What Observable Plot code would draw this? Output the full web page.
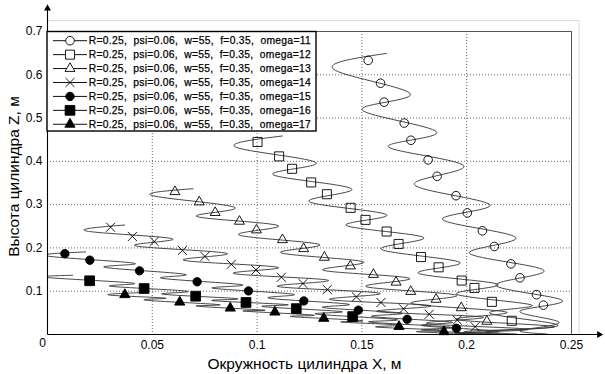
<!DOCTYPE html>
<html><head><meta charset="utf-8">
<script src="https://cdn.jsdelivr.net/npm/d3@7"></script>
<script src="https://cdn.jsdelivr.net/npm/@observablehq/plot@0.6"></script>
<style>
body{margin:0;background:#fff;}
#chart{width:605px;height:374px;}
</style></head><body><div id="chart"></div>
<script>
const omegas = [11, 12, 13, 14, 15, 16, 17];
const legendPrefix = "R=0.25,  psi=0.06,  w=55,  f=0.35,  omega=";
const xTicks = [0.05, 0.1, 0.15, 0.2, 0.25];
const yTicks = [0.1, 0.2, 0.3, 0.4, 0.5, 0.6, 0.7];
const xGrid = [0.05, 0.1, 0.15, 0.2];
const yGrid = [0.1, 0.2, 0.3, 0.4, 0.5, 0.6];
const originLabel = ["0"];
const xLabel = "Окружность цилиндра X, м";
const yLabel = "Высота цилиндра Z, м";

// curve turning points [x, z] and marker points [x, z]
const path11 = [[0.1617,0.6494],[0.1373,0.6103],[0.1732,0.5552],[0.1502,0.5184],[0.1856,0.4678],[0.1627,0.4333],[0.1986,0.3897],[0.1751,0.3460],[0.2110,0.3000],[0.1885,0.2655],[0.2234,0.2241],[0.2014,0.1874],[0.2368,0.1483],[0.2139,0.1138],[0.2455,0.0793],[0.2254,0.0540],[0.2440,0.0287],[0.2263,0.0103],[0.2383,0.0011]];
const mark11 = [[0.1530,0.6333],[0.1589,0.5805],[0.1606,0.5368],[0.1702,0.4885],[0.1734,0.4487],[0.1816,0.4034],[0.1859,0.3655],[0.1949,0.3207],[0.2003,0.2809],[0.2075,0.2395],[0.2132,0.2034],[0.2211,0.1632],[0.2254,0.1310],[0.2333,0.0920],[0.2366,0.0678]];
const path12 = [[0.1120,0.4586],[0.0909,0.4310],[0.1282,0.3966],[0.1077,0.3690],[0.1450,0.3368],[0.1249,0.3069],[0.1617,0.2770],[0.1426,0.2517],[0.1794,0.2241],[0.1593,0.1966],[0.1967,0.1667],[0.1770,0.1414],[0.2148,0.1161],[0.1952,0.0931],[0.2311,0.0678],[0.2110,0.0494],[0.2435,0.0218],[0.2120,0.0080],[0.2239,0.0011]];
const mark12 = [[0.1002,0.4448],[0.1105,0.4115],[0.1167,0.3828],[0.1258,0.3513],[0.1333,0.3241],[0.1446,0.2926],[0.1517,0.2648],[0.1618,0.2379],[0.1675,0.2092],[0.1782,0.1789],[0.1866,0.1552],[0.1976,0.1246],[0.2037,0.1076],[0.2120,0.0754],[0.2215,0.0317]];
const path13 = [[0.0694,0.3368],[0.0512,0.3195],[0.0895,0.2931],[0.0713,0.2724],[0.1100,0.2517],[0.0914,0.2299],[0.1297,0.2080],[0.1115,0.1885],[0.1507,0.1678],[0.1316,0.1483],[0.1727,0.1299],[0.1522,0.1103],[0.1952,0.0908],[0.1737,0.0713],[0.2191,0.0517],[0.1952,0.0345],[0.2416,0.0184],[0.2024,0.0080],[0.2167,0.0011]];
const mark13 = [[0.0608,0.3299],[0.0724,0.3062],[0.0800,0.2816],[0.0916,0.2614],[0.0997,0.2414],[0.1121,0.2189],[0.1222,0.1982],[0.1321,0.1782],[0.1445,0.1582],[0.1555,0.1386],[0.1663,0.1207],[0.1733,0.0993],[0.1854,0.0811],[0.1974,0.0616],[0.2096,0.0303]];
const path14 = [[0.0368,0.2529],[0.0201,0.2379],[0.0598,0.2207],[0.0421,0.2046],[0.0856,0.1874],[0.0651,0.1713],[0.1100,0.1552],[0.0890,0.1407],[0.1340,0.1253],[0.1100,0.1108],[0.1584,0.0954],[0.1349,0.0805],[0.1828,0.0667],[0.1574,0.0529],[0.2077,0.0402],[0.1809,0.0257],[0.2287,0.0126],[0.1976,0.0046],[0.2120,0.0007]];
const mark14 = [[0.0301,0.2478],[0.0405,0.2264],[0.0509,0.2149],[0.0644,0.1943],[0.0751,0.1805],[0.0877,0.1621],[0.0995,0.1490],[0.1116,0.1322],[0.1219,0.1177],[0.1335,0.1039],[0.1474,0.0869],[0.1591,0.0740],[0.1699,0.0593],[0.1821,0.0467],[0.1955,0.0333],[0.2040,0.0179]];
const path15 = [[0.0182,0.1908],[0.0010,0.1805],[0.0416,0.1644],[0.0273,0.1552],[0.0656,0.1391],[0.0545,0.1299],[0.0928,0.1149],[0.0789,0.1069],[0.1172,0.0931],[0.1057,0.0839],[0.1435,0.0701],[0.1316,0.0621],[0.1689,0.0494],[0.1550,0.0414],[0.1928,0.0287],[0.1785,0.0207],[0.2144,0.0080],[0.1986,0.0034],[0.2072,0.0011]];
const mark15 = [[0.0083,0.1867],[0.0202,0.1717],[0.0439,0.1471],[0.0714,0.1218],[0.0959,0.1007],[0.1223,0.0775],[0.1483,0.0563],[0.1716,0.0352],[0.1951,0.0143]];
const path16 = [[0.0120,0.1368],[0.0014,0.1310],[0.0411,0.1184],[0.0301,0.1115],[0.0665,0.1000],[0.0550,0.0931],[0.0904,0.0828],[0.0789,0.0782],[0.1144,0.0690],[0.1029,0.0644],[0.1402,0.0529],[0.1282,0.0471],[0.1665,0.0345],[0.1536,0.0287],[0.1919,0.0172],[0.1785,0.0115],[0.2024,0.0034]];
const mark16 = [[0.0201,0.1241],[0.0461,0.1062],[0.0707,0.0885],[0.0947,0.0740],[0.1187,0.0598],[0.1456,0.0414]];
const path17 = [[0.0445,0.0966],[0.0301,0.0908],[0.0565,0.0839],[0.0469,0.0793],[0.0818,0.0690],[0.0713,0.0655],[0.1033,0.0563],[0.0938,0.0540],[0.1268,0.0448],[0.1163,0.0414],[0.1498,0.0322],[0.1402,0.0287],[0.1679,0.0218],[0.1569,0.0172],[0.1880,0.0103],[0.1761,0.0069],[0.1976,0.0023]];
const mark17 = [[0.0369,0.0920],[0.0631,0.0747],[0.0872,0.0609],[0.1085,0.0517],[0.1318,0.0372],[0.1677,0.0184],[0.1892,0.0064]];

const paths = [path11, path12, path13, path14, path15, path16, path17];
const markers = [mark11, mark12, mark13, mark14, mark15, mark16, mark17];
const symbolNames = ["circle", "square", "triangle", "times", "circle", "square", "triangle"];
const symbolFilled = [false, false, false, false, true, true, true];

const symbolSize = {circle: 4.3, square: 5.1, triangle: 3.7, times: 4.2};
const filledSize = {circle: 4.2, square: 5.5, triangle: 3.8};

// axis extents (beyond plotting domain), for the arrowed axes and outer box
const xAxisEnd = 0.2646, yAxisEnd = 0.762;
const outerBoxX = 0.2536, outerBoxZ = 0.7253;

const series = omegas.map((om, i) => ({
  omega: om, path: paths[i], marks: markers[i], symbol: symbolNames[i],
  filled: symbolFilled[i],
  r: symbolFilled[i] ? filledSize[symbolNames[i]] : symbolSize[symbolNames[i]]
}));

const X = d => d[0], Y = d => d[1];

const plot = Plot.plot({
  width: 605, height: 374,
  marginLeft: 47, marginRight: 34, marginTop: 31, marginBottom: 40,
  x: {domain: [0, 0.25]},
  y: {domain: [0, 0.7]},
  style: {fontFamily: "Arial, 'Liberation Sans', sans-serif", background: "white", color: "black", overflow: "visible"},
  marks: [
    Plot.ruleY([outerBoxZ], {x1: 0, x2: outerBoxX, stroke: "#d8d8d8", strokeWidth: 1}),
    Plot.ruleX([outerBoxX], {y1: 0, y2: outerBoxZ, stroke: "#d8d8d8", strokeWidth: 1}),
    Plot.ruleX(xGrid, {stroke: "#666", strokeWidth: 1, strokeDasharray: "1,2"}),
    Plot.ruleY(yGrid, {stroke: "#666", strokeWidth: 1, strokeDasharray: "1,2"}),
    Plot.ruleY([0.7], {x1: 0, x2: 0.25, stroke: "#555", strokeWidth: 1}),
    Plot.ruleX([0.25], {y1: 0, y2: 0.7, stroke: "#555", strokeWidth: 1}),
    ...series.map(s => Plot.line(s.path, {x: X, y: Y, curve: "natural", stroke: "#333", strokeWidth: 0.9, clip: true})),
    ...series.map(s => Plot.dot(s.marks, {x: X, y: Y, symbol: s.symbol, r: s.r,
      fill: s.filled ? "black" : "none", stroke: "black", strokeWidth: 0.9})),
    Plot.link([0], {x1: 0, y1: 0, x2: 0, y2: yAxisEnd, stroke: "black", strokeWidth: 1.1}),
    Plot.link([0], {x1: 0, y1: 0, x2: xAxisEnd, y2: 0, stroke: "black", strokeWidth: 1.1}),
    Plot.dot([0], {x: 0, y: 0.7529, symbol: "triangle", r: 2.6, fill: "black", stroke: "none"}),
    Plot.dot([0], {x: 0.2632, y: 0, symbol: "triangle", r: 2.6, rotate: 90, fill: "black", stroke: "none"}),
    Plot.axisX(xTicks, {tickSize: 0, tickPadding: 6, fontSize: 12, label: null, tickFormat: d => String(d)}),
    Plot.axisY(yTicks, {tickSize: 0, tickPadding: 5, fontSize: 12, label: null, tickFormat: d => String(d)}),
    Plot.text(originLabel, {x: 0, y: 0, text: d => d, dx: -5, dy: 9, fontSize: 12, fill: "black"})
  ]
});

const svg = d3.select(plot);
svg.style("font-family", "Arial, 'Liberation Sans', sans-serif");

svg.append("text").attr("x", 304.5).attr("y", 369).attr("text-anchor", "middle")
  .attr("font-size", 15.5).attr("fill", "black").text(xLabel);
svg.append("text").attr("transform", "translate(18.5,176.5) rotate(-90)").attr("text-anchor", "middle")
  .attr("font-size", 15.5).attr("fill", "black").text(yLabel);

const lg = svg.append("g").attr("text-anchor", "start");
lg.append("rect").attr("x", 47).attr("y", 31.5).attr("width", 269).attr("height", 99.5)
  .attr("fill", "white").attr("stroke", "black").attr("stroke-width", 1.4);
const d3sym = {circle: d3.symbolCircle, square: d3.symbolSquare, triangle: d3.symbolTriangle, times: d3.symbolTimes || d3.symbolCross};
series.forEach((s, i) => {
  const yy = 40.7 + i * 13.93;
  lg.append("line").attr("x1", 53).attr("x2", 87).attr("y1", yy).attr("y2", yy)
    .attr("stroke", "#111").attr("stroke-width", 1);
  lg.append("path").attr("transform", `translate(70,${yy})`)
    .attr("d", d3.symbol(d3sym[s.symbol], Math.PI * s.r * s.r)())
    .attr("fill", s.filled ? "black" : "white").attr("stroke", "black").attr("stroke-width", 0.9);
  lg.append("text").attr("x", 88.7).attr("y", yy).attr("dy", "0.36em")
    .attr("text-anchor", "start")
    .attr("font-size", 10.3).attr("fill", "black")
    .attr("stroke", "black").attr("stroke-width", 0.25)
    .style("white-space", "pre")
    .attr("textLength", 222).attr("lengthAdjust", "spacing")
    .text(legendPrefix + s.omega);
});

document.getElementById("chart").appendChild(plot);
</script>
</body></html>
